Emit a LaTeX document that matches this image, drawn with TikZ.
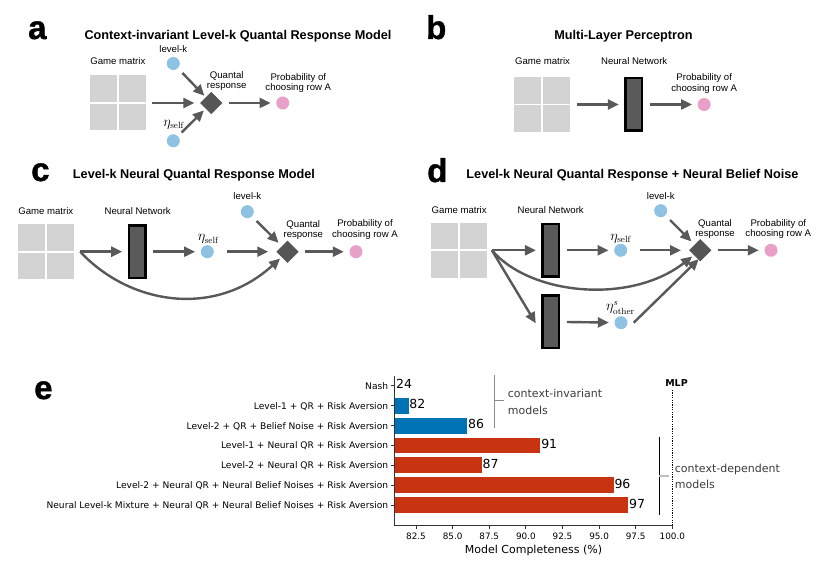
\documentclass[tikz,border=0pt]{standalone}
\usepackage[no-math]{fontspec}
\setmainfont{Liberation Sans}
\newfontfamily\dv{DejaVu Sans}
\newfontfamily\letterfont[FakeBold=1.2]{Liberation Sans Bold}
\usetikzlibrary{arrows.meta,shapes.geometric}
\definecolor{arrowgray}{RGB}{89,89,89}
\definecolor{qgray}{RGB}{85,85,85}
\definecolor{nngray}{RGB}{90,90,90}
\definecolor{mgray}{RGB}{211,211,211}
\definecolor{lblue}{RGB}{143,193,226}
\definecolor{lpink}{RGB}{232,160,200}
\definecolor{barblue}{RGB}{0,114,182}
\definecolor{barred}{RGB}{200,51,18}
\definecolor{txtgray}{RGB}{60,60,60}
\definecolor{brgray}{RGB}{140,140,140}
\definecolor{tickgray}{RGB}{190,190,190}
\tikzset{
  arr/.style={draw=arrowgray, line width=2.4pt, -{Triangle[length=11pt,width=10pt]}, shorten <=6.5pt, shorten >=5.5pt},
  diag/.style={arr, shorten <=6.5pt, shorten >=2pt},
  gm/.style={fill=mgray, minimum width=55.7pt, minimum height=55pt, inner sep=0pt,
    path picture={\draw[white, line width=1.8pt] (path picture bounding box.north) -- (path picture bounding box.south) (path picture bounding box.west) -- (path picture bounding box.east);}},
  qr/.style={diamond, fill=qgray, minimum size=22.4pt, inner sep=0pt},
  nn/.style={draw=black, line width=2.5pt, fill=nngray, minimum width=16.5pt, minimum height=52.5pt, inner sep=0pt},
  dotb/.style={circle, fill=lblue, minimum size=13pt, inner sep=0pt},
  dotp/.style={circle, fill=lpink, minimum size=13pt, inner sep=0pt},
  lbl/.style={font=\fontsize{9.6pt}{11pt}\selectfont, inner sep=0pt, anchor=base},
  ttl/.style={font=\bfseries\fontsize{12.7pt}{14pt}\selectfont, inner sep=0pt, anchor=base},
  plet/.style={font=\letterfont\fontsize{33pt}{36pt}\selectfont, inner sep=0pt, anchor=base west},
  etal/.style={font=\fontsize{13.5pt}{15pt}\selectfont, inner sep=0pt, anchor=base},
  ytl/.style={font=\dv\fontsize{9.1pt}{11pt}\selectfont, inner sep=0pt, anchor=base east},
  xtl/.style={font=\dv\fontsize{8.8pt}{10pt}\selectfont, inner sep=0pt, anchor=base},
  vall/.style={font=\dv\fontsize{12.5pt}{14pt}\selectfont, inner sep=0pt, anchor=base west},
  brtxt/.style={font=\dv\fontsize{11pt}{13pt}\selectfont, text=txtgray, inner sep=0pt, anchor=base west},
}
\begin{document}
\begin{tikzpicture}[x=1pt,y=-1pt]
\useasboundingbox[fill=white] (0,0) rectangle (825,561);

% ---------------- panel a ----------------
\node[plet] (la) at (28,39) {a};
\node[ttl] (ta) at (238,39.5) {Context-invariant Level-k Quantal Response Model};
\node[gm] (ma) at (117.85,103) {};
\node[lbl] (gla) at (117.85,65) {Game matrix};
\node[dotb] (ka) at (173.3,63.5) {};
\node[lbl] (kla) at (173.3,52.7) {level-k};
\node[dotb] (ea) at (173.3,140.8) {};
\node[etal] (ela) at (174,126.7) {$\eta_{\mathrm{self}}$};
\node[qr] (qa) at (211.3,103) {};
\node[lbl] (qla1) at (226.7,78.3) {Quantal};
\node[lbl] (qla2) at (226.7,88.5) {response};
\node[dotp] (pa) at (282.7,103) {};
\node[lbl] (pla1) at (298.3,80.3) {Probability of};
\node[lbl] (pla2) at (298.3,91) {choosing row A};
\draw[arr] (ma) -- (qa);
\draw[arr] (qa) -- (pa);
\draw[diag] (ka) -- (qa);
\draw[diag, shorten <=5pt, shorten >=2.5pt] (ea) -- (qa);

% ---------------- panel b ----------------
\node[plet] (lb) at (426,39) {b};
\node[ttl] (tb) at (623.5,40) {Multi-Layer Perceptron};
\node[gm] (mb) at (542.15,104.5) {};
\node[lbl] (glb) at (542.5,65) {Game matrix};
\node[nn] (nb) at (633.8,104.5) {};
\node[lbl] (nlb) at (634.2,65) {Neural Network};
\node[dotp] (pb) at (704.2,104.5) {};
\node[lbl] (plb1) at (704.2,81) {Probability of};
\node[lbl] (plb2) at (704.2,91.7) {choosing row A};
\draw[arr] (mb) -- (nb);
\draw[arr] (nb) -- (pb);

% ---------------- panel c ----------------
\node[plet] (lc) at (31,181) {c};
\node[ttl] (tc) at (194,179) {Level-k Neural Quantal Response Model};
\node[gm] (mc) at (46.15,251.7) {};
\node[lbl] (glc) at (45.8,215) {Game matrix};
\node[nn] (nc) at (137.2,251.7) {};
\node[lbl] (nlc) at (137.7,215) {Neural Network};
\node[dotb] (ec) at (207.3,251.7) {};
\node[etal] (elc) at (208.5,241) {$\eta_{\mathrm{self}}$};
\node[dotb] (kc) at (247.3,211.7) {};
\node[lbl] (klc) at (247.3,200) {level-k};
\node[qr] (qc) at (287.5,251.7) {};
\node[lbl] (qlc1) at (303.3,227.3) {Quantal};
\node[lbl] (qlc2) at (303.3,237.7) {response};
\node[dotp] (pc) at (356,251.7) {};
\node[lbl] (plc1) at (365,226.7) {Probability of};
\node[lbl] (plc2) at (365,237.7) {choosing row A};
\coordinate (cs) at ([xshift=6pt]mc.east);
\draw[arr, shorten <=0pt] (cs) -- (nc);
\draw[arr] (nc) -- (ec);
\draw[arr, shorten <=12.8pt, shorten >=7.8pt] (ec) -- (qc);
\draw[arr] (qc) -- (pc);
\draw[diag, shorten >=4.5pt] (kc) -- (qc);
\draw[arr, shorten <=0pt, shorten >=2pt] (cs) .. controls (130,305) and (215,318) .. (qc);

% ---------------- panel d ----------------
\node[plet] (ld) at (427,182) {d};
\node[ttl] (td) at (632.5,179) {Level-k Neural Quantal Response + Neural Belief Noise};
\node[gm] (md) at (458.85,250.3) {};
\node[lbl] (gld) at (459.2,213.3) {Game matrix};
\node[nn] (nd1) at (550.9,250.3) {};
\node[nn] (nd2) at (550.9,321.8) {};
\node[lbl] (nld) at (550.7,213.3) {Neural Network};
\node[dotb] (ed1) at (620.7,250.3) {};
\node[etal] (eld1) at (621,240.7) {$\eta_{\mathrm{self}}$};
\node[dotb] (ed2) at (621,322.7) {};
\node[etal] (eld2) at (620.5,310.5) {$\eta^{s}_{\mathrm{other}}$};
\node[dotb] (kd) at (660.7,210.7) {};
\node[lbl] (kld) at (660.8,199.3) {level-k};
\node[qr] (qd) at (700.2,250.3) {};
\node[lbl] (qld1) at (715,226.7) {Quantal};
\node[lbl] (qld2) at (715,236.7) {response};
\node[dotp] (pd) at (771,250.3) {};
\node[lbl] (pld1) at (778.3,226.7) {Probability of};
\node[lbl] (pld2) at (778.3,236.7) {choosing row A};
\coordinate (ds) at ([xshift=5pt]md.east);
\draw[arr, shorten <=0pt] (ds) -- (nd1);
\draw[arr, shorten <=0pt, shorten >=11pt] (ds) -- ([yshift=-10.9pt]nd2.west);
\draw[arr] (nd1) -- (ed1);
\draw[arr] (nd2) -- (ed2);
\draw[arr, shorten <=12.8pt, shorten >=7.8pt] (ed1) -- (qd);
\draw[arr] (qd) -- (pd);
\draw[diag, shorten >=4.5pt] (kd) -- (qd);
\draw[arr, shorten <=0pt, shorten >=0pt] ([xshift=6pt]ed2.east) -- ([xshift=-1.5pt,yshift=2.5pt]qd.south);
\draw[arr, shorten <=0pt, shorten >=2pt] (ds) .. controls (530,295) and (630,305) .. (qd);

% ---------------- panel e ----------------
\node[plet] (le) at (34,399) {e};
% bars
\foreach \v/\r/\c in {82/1/barblue, 86/2/barblue, 91/3/barred, 87/4/barred, 96/5/barred, 97/6/barred}{
  \fill[\c] (394.03,{385.9+19.85*\r-7.9}) rectangle ({416+(\v-82.5)*14.646},{385.9+19.85*\r+7.9});
  \node[vall] at ({416+(\v-82.5)*14.646+0.6},{385.9+19.85*\r+3}) {\v};
}
\node[vall] (v24) at (396,388.9) {24};
% y tick labels
\foreach \lab/\r in {Nash/0, Level-1 + QR + Risk Aversion/1, Level-2 + QR + Belief Noise + Risk Aversion/2,
  Level-1 + Neural QR + Risk Aversion/3, Level-2 + Neural QR + Risk Aversion/4,
  Level-2 + Neural QR + Neural Belief Noises + Risk Aversion/5,
  Neural Level-k Mixture + Neural QR + Neural Belief Noises + Risk Aversion/6}{
  \node[ytl] at (388.3,{385.9+19.85*\r+3.4}) {\lab};
  \draw[black!80, line width=0.8pt] (390.5,{385.9+19.85*\r}) -- (394.03,{385.9+19.85*\r});
}
% spines
\draw[black!80, line width=0.8pt] (394.03,376) -- (394.03,525) -- (672.3,525);
\draw[black, line width=0.9pt, dash pattern=on 1.2pt off 1.2pt] (672.3,390) -- (672.3,525);
\node[font=\dv\bfseries\fontsize{9.5pt}{11pt}\selectfont, inner sep=0pt, anchor=base] (mlp) at (676.5,386.7) {MLP};
% x ticks
\foreach \t/\s in {82.5/82.5, 85/85.0, 87.5/87.5, 90/90.0, 92.5/92.5, 95/95.0, 97.5/97.5, 100/100.0}{
  \draw[black!80, line width=0.8pt] ({416+(\t-82.5)*14.646},525) -- ({416+(\t-82.5)*14.646},528.5);
  \node[xtl] at ({416+(\t-82.5)*14.646},539) {\s};
}
\node[font=\dv\fontsize{11pt}{13pt}\selectfont, inner sep=0pt, anchor=base] (xl) at (533.5,553) {Model Completeness (\%)};
% brackets
\draw[brgray, line width=0.9pt] (494.3,375) -- (494.3,428.3);
\draw[brgray, line width=0.9pt] (494.3,400.7) -- (504.3,400.7);
\node[brtxt] (ci1) at (507.7,398) {context-invariant};
\node[brtxt] (ci2) at (507.7,414) {models};
\draw[black, line width=0.9pt] (659.3,436.7) -- (659.3,515);
\draw[tickgray, line width=1.8pt] (659.3,475.7) -- (668.7,475.7);
\node[brtxt] (cd1) at (674.7,472.3) {context-dependent};
\node[brtxt] (cd2) at (674.7,488.3) {models};
\end{tikzpicture}
\end{document}
